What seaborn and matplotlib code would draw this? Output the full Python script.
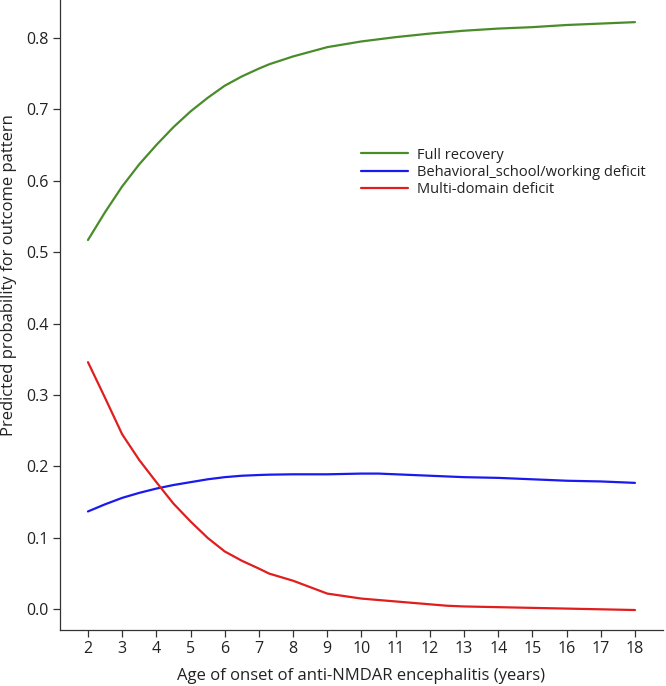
import matplotlib
matplotlib.use("Agg")
import matplotlib.pyplot as plt
import seaborn as sns
import pandas as pd

ages = [2, 2.5, 3, 3.5, 4, 4.5, 5, 5.5, 6, 6.5, 7, 7.3, 8, 9, 10, 10.5, 11, 12, 12.5, 13, 14, 15, 16, 17, 18]
full_recovery = [0.517, 0.556, 0.592, 0.623, 0.650, 0.675, 0.697, 0.716, 0.733, 0.746, 0.757, 0.763, 0.774, 0.787, 0.795, 0.798, 0.801, 0.806, 0.808, 0.810, 0.813, 0.815, 0.818, 0.820, 0.822]
behavioral = [0.137, 0.147, 0.156, 0.163, 0.169, 0.174, 0.178, 0.182, 0.185, 0.187, 0.188, 0.1885, 0.189, 0.189, 0.190, 0.190, 0.189, 0.187, 0.186, 0.185, 0.184, 0.182, 0.180, 0.179, 0.177]
multi_domain = [0.346, 0.296, 0.245, 0.209, 0.178, 0.148, 0.123, 0.100, 0.081, 0.068, 0.057, 0.050, 0.040, 0.022, 0.015, 0.013, 0.011, 0.007, 0.005, 0.004, 0.003, 0.002, 0.001, 0.000, -0.001]
series_names = ["Full recovery", "Behavioral_school/working deficit", "Multi-domain deficit"]
x_ticks = list(range(2, 19))
y_ticks = [0.0, 0.1, 0.2, 0.3, 0.4, 0.5, 0.6, 0.7, 0.8]

rows = []
for name, vals in zip(series_names, [full_recovery, behavioral, multi_domain]):
    for a, v in zip(ages, vals):
        rows.append({"age": a, "prob": v, "pattern": name})
df = pd.DataFrame(rows)

sns.set_theme(style="ticks")
plt.rcParams['font.family'] = ['Open Sans', 'DejaVu Sans']

fig = plt.figure(figsize=(6.66, 6.86), dpi=100)
ax = fig.add_axes([0.09, 0.0816, 0.9055, 0.9184])
palette = {"Full recovery": "#4a8c2a", "Behavioral_school/working deficit": "#1a1aee", "Multi-domain deficit": "#e01e1e"}
sns.lineplot(data=df, x="age", y="prob", hue="pattern", hue_order=series_names,
             palette=palette, linewidth=1.6, ax=ax, legend=True)

ax.set_xlim(1.18, 18.82)
ax.set_ylim(-0.029, 0.853)
ax.set_xticks(x_ticks)
ax.set_xticklabels([str(t) for t in x_ticks])
ax.set_yticks(y_ticks)
ax.set_yticklabels([f"{t:.1f}" for t in y_ticks])
ax.tick_params(axis='both', labelsize=11.5, colors='#333333', length=5, width=0.9, labelcolor='#222222', pad=3)
for s in ["top", "right"]:
    ax.spines[s].set_visible(False)
for s in ["left", "bottom"]:
    ax.spines[s].set_color('#333333')
    ax.spines[s].set_linewidth(0.9)
ax.set_xlabel("Age of onset of anti-NMDAR encephalitis (years)", fontsize=12, color='#222222', labelpad=8)
ax.set_ylabel("Predicted probability for outcome pattern", fontsize=12, color='#222222')
ax.yaxis.set_label_coords(-0.072, 0.563)

leg = ax.legend(loc='upper left', bbox_to_anchor=(0.49, 0.775), frameon=False,
                fontsize=10.5, handlelength=3.2, handletextpad=0.6, labelspacing=0.15,
                borderaxespad=0)
for t in leg.get_texts():
    t.set_color('#222222')

fig.savefig("out.png", dpi=100)
